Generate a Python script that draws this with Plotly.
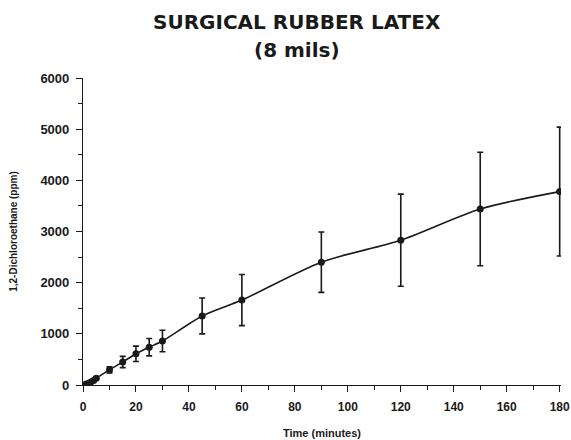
import plotly.graph_objects as go

time_min = [1, 2, 3, 4, 5, 10, 15, 20, 25, 30, 45, 60, 90, 120, 150, 180]
conc_ppm = [15, 35, 60, 90, 130, 295, 450, 610, 740, 860, 1350, 1660, 2400, 2830, 3440, 3780]
err_ppm = [5, 10, 15, 20, 25, 60, 110, 150, 170, 210, 350, 500, 590, 900, 1110, 1260]

x_ticks = list(range(0, 181, 20))
y_ticks = list(range(0, 6001, 1000))
title_lines = ["SURGICAL RUBBER LATEX", "(8 mils)"]

fig = go.Figure()
fig.add_trace(go.Scatter(
    x=time_min, y=conc_ppm,
    mode="lines+markers",
    line=dict(color="#1a1a1a", width=1.6, shape="spline", smoothing=0.8),
    marker=dict(color="#1a1a1a", size=7),
    error_y=dict(type="data", array=err_ppm, visible=True, color="#1a1a1a", thickness=1.6, width=3),
    showlegend=False,
))

font_fam = "Liberation Sans, Arial, sans-serif"
title_font = dict(family="DejaVu Sans, sans-serif", size=20, color="#1a1a1a")
fig.update_layout(
    width=571, height=440,
    margin=dict(l=83, r=10, t=78, b=55),
    paper_bgcolor="white", plot_bgcolor="white",
    font=dict(family=font_fam, color="#1a1a1a"),
    annotations=[
        dict(text=f"<b>{title_lines[0]}</b>", xref="paper", yref="paper", x=0.448, y=1 + (78 - 22) / 307,
             xanchor="center", yanchor="middle", showarrow=False, font=title_font),
        dict(text=f"<b>{title_lines[1]}</b>", xref="paper", yref="paper", x=0.448, y=1 + (78 - 50) / 307,
             xanchor="center", yanchor="middle", showarrow=False, font=title_font),
    ],
)
fig.update_xaxes(
    range=[0, 180.5], tickvals=x_ticks, ticktext=[f"<b>{v}</b>" for v in x_ticks],
    ticks="outside", ticklen=6, tickwidth=1.2, tickcolor="#1a1a1a",
    minor=dict(ticks="outside", dtick=10, ticklen=4, tickcolor="#1a1a1a"),
    showline=True, linecolor="#1a1a1a", linewidth=1.2, showgrid=False, zeroline=False,
    tickfont=dict(size=12, family=font_fam), automargin=False, ticklabelstandoff=4,
    title=dict(text="<b>Time (minutes)</b>", font=dict(size=11, family=font_fam), standoff=16),
)
fig.update_yaxes(
    range=[0, 6000], tickvals=y_ticks, ticktext=[f"<b>{v}</b>" for v in y_ticks],
    ticks="outside", ticklen=6, tickwidth=1.2, tickcolor="#1a1a1a",
    minor=dict(ticks="outside", dtick=500, ticklen=4, tickcolor="#1a1a1a"),
    showline=True, linecolor="#1a1a1a", linewidth=1.2, showgrid=False, zeroline=False,
    tickfont=dict(size=13, family=font_fam), automargin=False, ticklabelstandoff=4,
    title=dict(text="<b>1,2-Dichloroethane (ppm)</b>", font=dict(size=10, family=font_fam), standoff=20),
)

fig.write_html("out.html", config={"displayModeBar": False},
               post_script="document.body.style.margin='0';")
